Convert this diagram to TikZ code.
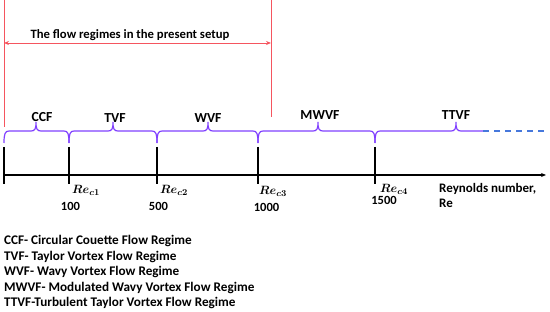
\documentclass[tikz,border=0pt]{standalone}
\usepackage{fontspec}
\setmainfont{Carlito}
\usepackage{amsmath}
\usepackage{bm}
\usetikzlibrary{arrows.meta}
\definecolor{brc}{RGB}{128,64,255}
\definecolor{redl}{RGB}{245,85,95}
\definecolor{dblue}{RGB}{70,120,220}
\newcommand{\regbrace}[3]{%
 \draw[bracestyle] (#1,143) .. controls (#1,134) and (#1+1,131) .. (#1+5,131) -- (#3-5,131)
   .. controls (#3-1,131) and (#3,129) .. (#3,122)
   .. controls (#3,129) and (#3+1,131) .. (#3+5,131) -- (#2-5,131)
   .. controls (#2-1,131) and (#2,134) .. (#2,143);}
\begin{document}
\begin{tikzpicture}[x=1pt,y=-1pt,
  bracestyle/.style={brc,line width=1.2pt},
  tick/.style={black,line width=1.1pt},
  lbl/.style={font=\fontsize{13.8}{16}\selectfont\bfseries,inner sep=0pt},
  num/.style={font=\fontsize{12.5}{15}\selectfont\bfseries,inner sep=0pt},
  relbl/.style={font=\fontsize{13}{15}\selectfont,inner sep=0pt,anchor=west},
  axl/.style={font=\fontsize{13}{15}\selectfont\bfseries,inner sep=0pt,anchor=west},
  leg/.style={font=\fontsize{13.2}{15}\selectfont\bfseries,inner sep=0pt,anchor=west}]
\useasboundingbox (0,0) rectangle (550,312);
% red range
\coordinate (rt0) at (4,0); \coordinate (rb0) at (4,127);
\coordinate (rt1) at (271,0); \coordinate (rb1) at (271,117);
\coordinate (ra0) at (4,43); \coordinate (ra1) at (271,43);
\draw[redl,line width=0.8pt] (rt0) -- (rb0);
\draw[redl,line width=0.8pt] (rt1) -- (rb1);
\draw[redl,line width=0.8pt,{Stealth[length=5pt,width=4pt]}-{Stealth[length=5pt,width=4pt]}] (ra0) -- (ra1);
\node[font=\fontsize{12.7}{15}\selectfont\bfseries,inner sep=0pt] (title) at (130,35) {The flow regimes in the present setup};
% braces
\regbrace{4}{69}{36}
\regbrace{69}{157}{113}
\regbrace{157}{258}{208}
\regbrace{258}{375}{318}
\draw[bracestyle] (375,143) .. controls (375,134) and (376,131) .. (380,131) -- (451,131)
   .. controls (455,131) and (456,129) .. (456,122)
   .. controls (456,129) and (457,131) .. (461,131) -- (483,131);
\coordinate (de0) at (483,131); \coordinate (de1) at (546,131);
\draw[dblue,line width=1.1pt,dash pattern=on 6pt off 5pt] (de0) -- (de1);
% regime labels
\node[lbl] (ccf) at (42,117) {CCF};
\node[lbl] (tvf) at (115,118) {TVF};
\node[lbl] (wvf) at (208,118) {WVF};
\node[lbl] (mwvf) at (320,115) {MWVF};
\node[lbl] (ttvf) at (456,115) {TTVF};
% axis
\coordinate (ax0) at (4,175); \coordinate (ax1) at (546,175);
\draw[tick,-{Stealth[length=5pt,width=4pt]}] (ax0) -- (ax1);
\foreach \x/\n in {4/0,69/1,157/2,258/3,375/4}{
  \coordinate (t\n a) at (\x,147); \coordinate (t\n b) at (\x,184);
  \draw[tick] (t\n a) -- (t\n b);}
% Re labels
\node[relbl] (rc1) at (72,190) {$\bm{Re_{c1}}$};
\node[relbl] (rc2) at (160,190) {$\bm{Re_{c2}}$};
\node[relbl] (rc3) at (259,191) {$\bm{Re_{c3}}$};
\node[relbl] (rc4) at (380,189) {$\bm{Re_{c4}}$};
\node[num] (n1) at (70.5,206) {100};
\node[num] (n2) at (158.5,206) {500};
\node[num] (n3) at (266.5,207) {1000};
\node[num] (n4) at (384,200) {1500};
\node[axl] (rn) at (439,189) {Reynolds number,};
\node[axl] (rn2) at (439,203) {Re};
% legend
\node[leg] (l1) at (4,241) {CCF- Circular Couette Flow Regime};
\node[leg] (l2) at (4,257) {TVF- Taylor Vortex Flow Regime};
\node[leg] (l3) at (4,272) {WVF- Wavy Vortex Flow Regime};
\node[leg] (l4) at (4,288) {MWVF- Modulated Wavy Vortex Flow Regime};
\node[leg] (l5) at (4,303) {TTVF-Turbulent Taylor Vortex Flow Regime};
\end{tikzpicture}
\end{document}
